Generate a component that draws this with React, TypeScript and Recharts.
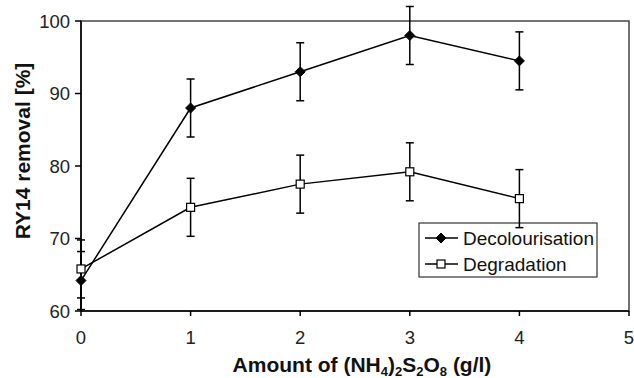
import React from 'react';
import { LineChart, Line, XAxis, YAxis, ErrorBar, ReferenceArea, Customized } from 'recharts';

const amounts = [0, 1, 2, 3, 4];
const decolourisation = [64.2, 88.0, 93.0, 98.0, 94.5];
const decolourisationErr = [4, 4, 4, 4, 4];
const degradation = [65.8, 74.3, 77.5, 79.2, 75.5];
const degradationErr = [4, 4, 4, 4, 4];
const xTicks = [0, 1, 2, 3, 4, 5];
const yTicks = [60, 70, 80, 90, 100];
const seriesNames = ['Decolourisation', 'Degradation'];

const data = amounts.map((x, i) => ({
  x,
  dec: decolourisation[i],
  decErr: decolourisationErr[i],
  deg: degradation[i],
  degErr: degradationErr[i],
}));

const FONT = '"Liberation Sans", Arial, Helvetica, sans-serif';

const Diamond = ({ cx, cy, r = 5 }: any) => (
  <polygon
    points={`${cx},${cy - r} ${cx + r},${cy} ${cx},${cy + r} ${cx - r},${cy}`}
    fill="#000"
    stroke="#000"
    strokeWidth={1}
  />
);

const Square = ({ cx, cy, s = 4 }: any) => (
  <rect x={cx - s} y={cy - s} width={2 * s} height={2 * s} fill="#fff" stroke="#000" strokeWidth={1.2} />
);

const Titles = () => (
  <g fontFamily={FONT} fontWeight="bold" fill="#111">
    <text x={30} y={151} fontSize={21} textAnchor="middle" transform="rotate(-90, 30, 151)">
      RY14 removal [%]
    </text>
    <text x={362} y={372} fontSize={21} textAnchor="middle">
      Amount of (NH<tspan fontSize={13} dy={4}>4</tspan>
      <tspan dy={-4}>)</tspan>
      <tspan fontSize={13} dy={4}>2</tspan>
      <tspan dy={-4}>S</tspan>
      <tspan fontSize={13} dy={4}>2</tspan>
      <tspan dy={-4}>O</tspan>
      <tspan fontSize={13} dy={4}>8</tspan>
      <tspan dy={-4}> (g/l)</tspan>
    </text>
  </g>
);

const LegendBox = () => {
  const x0 = 419;
  const y0 = 223;
  return (
    <g fontFamily={FONT}>
      <rect x={x0} y={y0} width={178} height={54} fill="#fff" stroke="#333" strokeWidth={1.2} />
      <line x1={x0 + 6} x2={x0 + 39} y1={y0 + 15} y2={y0 + 15} stroke="#000" strokeWidth={1.5} />
      <Diamond cx={x0 + 22} cy={y0 + 15} />
      <text x={x0 + 44} y={y0 + 21.5} fontSize={19} fill="#111">{seriesNames[0]}</text>
      <line x1={x0 + 6} x2={x0 + 39} y1={y0 + 41} y2={y0 + 41} stroke="#000" strokeWidth={1.5} />
      <Square cx={x0 + 22} cy={y0 + 41} />
      <text x={x0 + 44} y={y0 + 47.5} fontSize={19} fill="#111">{seriesNames[1]}</text>
    </g>
  );
};

export default function App() {
  return (
    <div style={{ position: 'absolute', left: 0, top: 0, width: 634, height: 378, background: '#fff' }}>
      <LineChart width={634} height={378} data={data} margin={{ top: 21, right: 5, left: 0, bottom: 0 }}>
        <ReferenceArea x1={0} x2={5} y1={60} y2={100} fill="none" stroke="#444" strokeWidth={1.5} />
        <XAxis
          dataKey="x"
          type="number"
          domain={[0, 5]}
          ticks={xTicks}
          height={67}
          stroke="#000"
          strokeWidth={1.5}
          tickSize={5}
          tickMargin={15}
          tick={{ fontSize: 18.5, fill: '#222', fontFamily: FONT }}
        />
        <YAxis
          type="number"
          domain={[60, 100]}
          ticks={yTicks}
          allowDataOverflow
          width={81}
          stroke="#000"
          strokeWidth={1.5}
          tickSize={6}
          tickMargin={5}
          tick={{ fontSize: 18.5, fill: '#222', fontFamily: FONT }}
        />
        <Line
          dataKey="dec"
          name={seriesNames[0]}
          stroke="#000"
          strokeWidth={1.5}
          isAnimationActive={false}
          dot={(p: any) => <Diamond key={`d${p.index}`} cx={p.cx} cy={p.cy} />}
        >
          <ErrorBar dataKey="decErr" direction="y" width={4} stroke="#000" strokeWidth={1.5} />
        </Line>
        <Line
          dataKey="deg"
          name={seriesNames[1]}
          stroke="#000"
          strokeWidth={1.5}
          isAnimationActive={false}
          dot={(p: any) => <Square key={`s${p.index}`} cx={p.cx} cy={p.cy} />}
        >
          <ErrorBar dataKey="degErr" direction="y" width={4} stroke="#000" strokeWidth={1.5} />
        </Line>
        <Customized component={Titles} />
        <Customized component={LegendBox} />
      </LineChart>
    </div>
  );
}
